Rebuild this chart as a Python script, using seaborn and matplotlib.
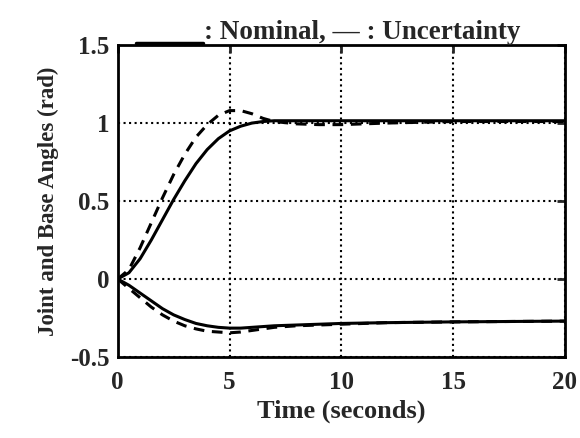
import numpy as np
import pandas as pd
import matplotlib
matplotlib.use('Agg')
import matplotlib.pyplot as plt
import seaborn as sns
from matplotlib.lines import Line2D

# 시간 축 (초)
time = [0, 0.5, 1, 1.5, 2, 2.5, 3, 3.5, 4, 4.5, 5, 5.5, 6, 6.5, 7, 8, 9, 10, 12, 15, 20]

# 관절 각도 (nominal / uncertainty)
joint_nom = [0, 0.04, 0.13, 0.25, 0.38, 0.51, 0.63, 0.74, 0.83, 0.90, 0.95, 0.98, 1.0, 1.01,
             1.015, 1.015, 1.015, 1.015, 1.015, 1.015, 1.015]
joint_unc = [0, 0.06, 0.20, 0.36, 0.52, 0.67, 0.80, 0.91, 0.99, 1.05, 1.08, 1.08, 1.06, 1.03,
             1.01, 0.995, 0.99, 0.99, 1.0, 1.01, 1.01]
# 베이스 각도
base_nom = [0, -0.04, -0.09, -0.14, -0.19, -0.23, -0.26, -0.285, -0.30, -0.31, -0.315, -0.315,
            -0.31, -0.305, -0.30, -0.295, -0.29, -0.285, -0.28, -0.275, -0.27]
base_unc = [0, -0.06, -0.12, -0.18, -0.23, -0.27, -0.30, -0.32, -0.335, -0.34, -0.345, -0.34,
            -0.33, -0.32, -0.31, -0.30, -0.295, -0.29, -0.28, -0.275, -0.27]

x_ticks = [0, 5, 10, 15, 20]
y_ticks = [-0.5, 0, 0.5, 1, 1.5]
y_tick_labels = ['-0.5', '0', '0.5', '1', '1.5']

rows = []
for name, case, vals in [('joint', 'Nominal', joint_nom), ('joint', 'Uncertainty', joint_unc),
                         ('base', 'Nominal', base_nom), ('base', 'Uncertainty', base_unc)]:
    for t, v in zip(time, vals):
        rows.append({'time': t, 'angle': v, 'var': name, 'case': case})
df = pd.DataFrame(rows)

sns.set_style('white')
plt.rcParams['font.family'] = ['Liberation Serif', 'DejaVu Serif']
plt.rcParams['font.weight'] = 'bold'

fig = plt.figure(figsize=(5.8, 4.38), dpi=100)
ax = fig.add_axes([0.203, 0.185, 0.771, 0.712])

sns.lineplot(data=df, x='time', y='angle', units='var', estimator=None, style='case',
             dashes={'Nominal': '', 'Uncertainty': (3.5, 2.5)}, color='black', linewidth=2.2,
             legend=False, ax=ax)

ax.set_xlim(0, 20)
ax.set_ylim(-0.5, 1.5)
ax.set_xticks(x_ticks)
ax.set_yticks(y_ticks)
ax.set_yticklabels(y_tick_labels)
ax.grid(True, linestyle=':', color='black', linewidth=1.5)
for s in ax.spines.values():
    s.set_color('black')
    s.set_linewidth(2)
ax.tick_params(direction='in', length=6, width=2, top=True, right=True, labelsize=18)
ax.tick_params(axis='x', pad=10)
ax.tick_params(axis='y', pad=6)
for lab in ax.get_xticklabels() + ax.get_yticklabels():
    lab.set_fontweight('bold')

ax.set_xlabel('Time (seconds)', fontsize=19, fontweight='bold', labelpad=4)
ax.set_ylabel('Joint and Base Angles (rad)', fontsize=16.5, fontweight='bold', labelpad=8)

# 제목 (실선 범례 + 텍스트)
ax.add_line(Line2D([0.04, 0.19], [1.008, 1.008], transform=ax.transAxes, color='black',
                   linewidth=2.5, clip_on=False))
ax.text(0.192, 1.0, ': Nominal, \u2014 : Uncertainty', transform=ax.transAxes,
        fontsize=19.5, fontweight='bold', va='bottom', ha='left')

fig.savefig('out.png', dpi=100)
